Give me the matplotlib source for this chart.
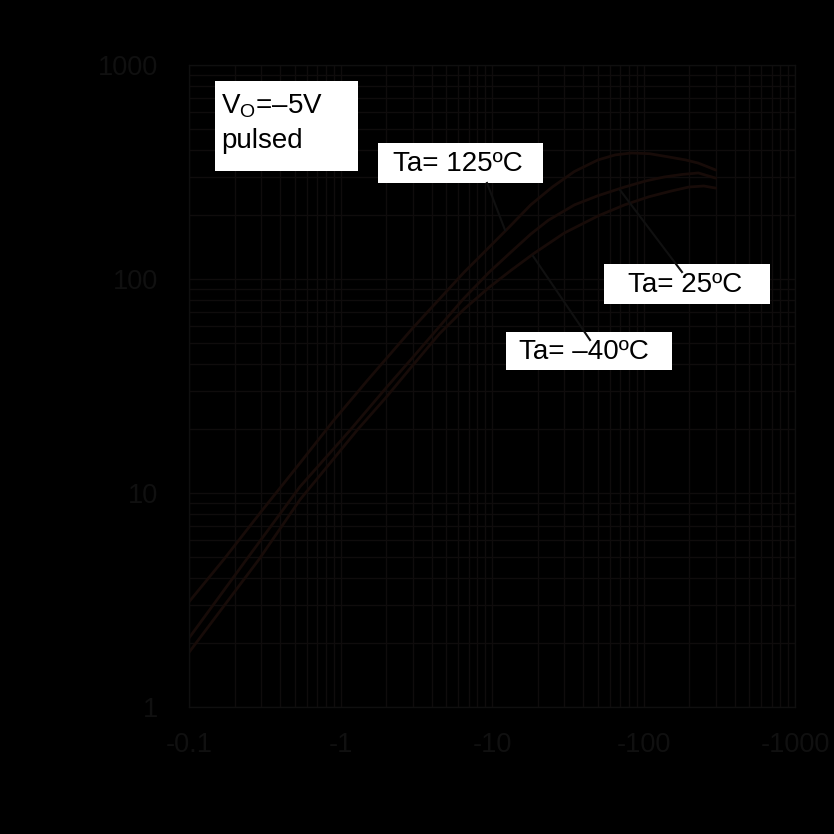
import matplotlib
matplotlib.use("Agg")
import matplotlib.pyplot as plt
from matplotlib.patches import Rectangle
from matplotlib.lines import Line2D
from matplotlib.ticker import FixedLocator, FixedFormatter, LogLocator, NullFormatter

plt.rcParams['font.family'] = ['Liberation Sans', 'DejaVu Sans']
plt.rcParams['mathtext.fontset'] = 'custom'
plt.rcParams['mathtext.rm'] = 'Liberation Sans'

# ---- data ----
i_125 = [0.1, 0.17, 0.3, 0.54, 0.9, 1.5, 3.0, 6.5, 9.5, 13, 18, 25, 35, 50, 65, 83, 110, 146, 190, 230, 300]
h_125 = [3.1, 4.9, 8.2, 13.8, 21.8, 33.5, 59, 107, 140, 175, 222, 269, 318, 360, 380, 388, 385, 372, 360, 348, 323]

i_25 = [0.1, 0.24, 0.54, 1.16, 2.0, 3.0, 4.5, 6.5, 9.5, 13.4, 18, 23.5, 35, 50, 75, 105, 138, 180, 230, 300]
h_25 = [2.1, 4.9, 10.7, 19.7, 31, 43, 60, 81, 107, 134, 162, 188, 222, 245, 269, 288, 300, 308, 313, 296]

i_m40 = [0.1, 0.29, 0.54, 1.29, 2.0, 3.0, 4.5, 6.5, 9.5, 13.4, 19, 30, 50, 75, 108, 150, 199, 250, 300]
h_m40 = [1.8, 4.9, 9.3, 19.7, 28, 39.5, 55.5, 72, 91, 110, 132, 164, 197, 222, 242, 257, 269, 272, 266]

x_ticks = [0.1, 1, 10, 100, 1000]
x_tick_labels = ["-0.1", "-1", "-10", "-100", "-1000"]
y_ticks = [1, 10, 100, 1000]
y_tick_labels = ["1", "10", "100", "1000"]

series = [(i_125, h_125), (i_25, h_25), (i_m40, h_m40)]

W = H = 834
fig = plt.figure(figsize=(8.34, 8.34), dpi=100, facecolor='black')

def fx(px):
    return px / W

def fy(py):
    return 1 - py / H

ax_left, ax_right, ax_top, ax_bottom = 189, 795, 65, 707
ax = fig.add_axes([fx(ax_left), fy(ax_bottom), fx(ax_right - ax_left), (ax_bottom - ax_top) / H])
ax.set_facecolor('black')
ax.set_xscale('log')
ax.set_yscale('log')
ax.set_xlim(0.1, 1000)
ax.set_ylim(1, 1000)

grid_col = '#0f0c0c'
ax.xaxis.set_major_locator(FixedLocator(x_ticks))
ax.xaxis.set_major_formatter(FixedFormatter(x_tick_labels))
ax.xaxis.set_minor_locator(LogLocator(base=10, subs=range(2, 10)))
ax.xaxis.set_minor_formatter(NullFormatter())
ax.yaxis.set_major_locator(FixedLocator(y_ticks))
ax.yaxis.set_major_formatter(FixedFormatter(y_tick_labels))
ax.yaxis.set_minor_locator(LogLocator(base=10, subs=range(2, 10)))
ax.yaxis.set_minor_formatter(NullFormatter())
ax.grid(True, which='both', color=grid_col, linewidth=1.0)
ax.tick_params(which='both', length=0, colors='#101010', labelsize=19.5)
ax.tick_params(axis='x', pad=18)
ax.tick_params(axis='y', pad=22)
for s in ax.spines.values():
    s.set_color('#0f0f0f')
    s.set_linewidth(1.0)

for ii, hh in series:
    ax.plot(ii, hh, color='#170b08', linewidth=2.0, solid_capstyle='round', solid_joinstyle='round')

# annotation boxes (figure pixel layout)
def box(x0, y0, x1, y1):
    fig.patches.append(Rectangle((fx(x0), fy(y1)), fx(x1 - x0), (y1 - y0) / H,
                                 transform=fig.transFigure, facecolor='white',
                                 edgecolor='none', zorder=5))

box(215, 81, 358, 171)
box(378, 143, 543, 183)
box(604, 264, 770, 304)
box(506, 332, 672, 370)

tk = dict(transform=fig.transFigure, color='black', fontsize=20, zorder=7, va='center', ha='left')
fig.text(fx(221), fy(106), r'V$_{\mathrm{O}}$=–5V', **tk)
fig.text(fx(221), fy(141), 'pulsed', **tk)
fig.text(fx(393), fy(164), 'Ta= 125ºC', **tk)
fig.text(fx(628), fy(285), 'Ta= 25ºC', **tk)
fig.text(fx(519), fy(352), 'Ta= –40ºC', **tk)

# leader lines
for (x0, y0, x1, y1) in [(487, 183, 505, 230), (620, 190, 682, 272), (533, 256, 590, 340)]:
    fig.lines.append(Line2D([fx(x0), fx(x1)], [fy(y0), fy(y1)], transform=fig.transFigure,
                            color='#101010', linewidth=1.5, zorder=8))

fig.savefig('out.png', dpi=100, facecolor='black')
